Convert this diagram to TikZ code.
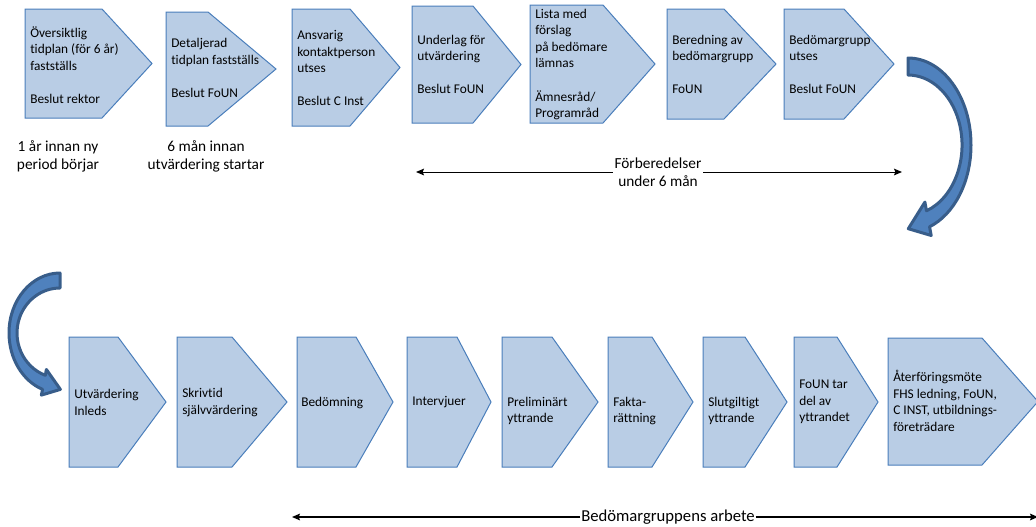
\documentclass[tikz,border=0pt]{standalone}
\usepackage{fontspec}
\setmainfont{Carlito}[Ligatures=NoCommon]
\usetikzlibrary{arrows.meta}
\definecolor{stepfill}{RGB}{185,205,229}
\definecolor{stepline}{RGB}{74,126,187}
\definecolor{bendfill}{RGB}{79,129,189}
\definecolor{bendline}{RGB}{56,93,138}
\tikzstyle{stepbox}=[draw=stepline, fill=stepfill, line width=0.75pt]
\tikzstyle{steptext}=[anchor=west, align=left, inner sep=0pt, font=\fontsize{10}{12.4}\selectfont]
\tikzstyle{note}=[align=center, inner sep=1pt, font=\fontsize{11.5}{13.5}\selectfont]
\tikzstyle{spanline}=[line width=0.75pt, -{Stealth[length=6pt,width=5pt,inset=1pt]}]
\tikzstyle{bendarrow}=[draw=bendline, fill=bendfill, line width=2.25pt, line join=round]

\begin{document}
\begin{tikzpicture}[x=0.75pt, y=-0.75pt]
        \useasboundingbox (0,0) rectangle (1036,526);
        \draw[stepbox] (25,9) -- (102,9) -- (152,63.5) -- (102,118) -- (25,118) -- cycle;
        \draw[stepbox] (166,12) -- (208,12) -- (276,69) -- (208,126) -- (166,126) -- cycle;
        \draw[stepbox] (292,9) -- (350,9) -- (400,67.5) -- (350,126) -- (292,126) -- cycle;
        \draw[stepbox] (412,6) -- (473,6) -- (521,64.5) -- (473,123) -- (412,123) -- cycle;
        \draw[stepbox] (530,5) -- (603,5) -- (655,64) -- (603,123) -- (530,123) -- cycle;
        \draw[stepbox] (667,9) -- (724,9) -- (776,64) -- (724,119) -- (667,119) -- cycle;
        \draw[stepbox] (784,9) -- (844,9) -- (894,64) -- (844,119) -- (784,119) -- cycle;
        \node[steptext] (S1) at (30,65)   {Översiktlig\\tidplan (för 6 år)\\fastställs\\[12.4pt]Beslut rektor};
        \node[steptext] (S2) at (171,68)  {Detaljerad\\tidplan fastställs\\[12.4pt]Beslut FoUN};
        \node[steptext] (S3) at (297,68)  {Ansvarig\\kontaktperson\\utses\\[12.4pt]Beslut C Inst};
        \node[steptext] (S4) at (417,64.5) {Underlag för\\utvärdering\\[12.4pt]Beslut FoUN};
        \node[steptext] (S5) at (535,64.5) {Lista med\\förslag\\på bedömare\\lämnas\\[12.4pt]Ämnesråd/\\Programråd};
        \node[steptext] (S6) at (672,64.5) {Beredning av\\bedömargrupp\\[12.4pt]FoUN};
        \node[steptext] (S7) at (789,64.5) {Bedömargrupp\\utses\\[12.4pt]Beslut FoUN};
        \node[note] (L1) at (58,156)  {1 år innan ny\\period börjar};
        \node[note] (L2) at (206,156) {6 mån innan\\utvärdering startar};
        \node[note] (prep) at (658,172) {Förberedelser\\under 6 mån};
        \coordinate (prepL) at (416,172);
        \coordinate (prepR) at (902,172);
        \draw[spanline] (prep.west) -- (prepL);
        \draw[spanline] (prep.east) -- (prepR);
        \filldraw[bendarrow] (908,58) arc[start angle=-90, end angle=70, x radius=63, y radius=87] -- (931.2,235.5) -- (908.3,228.7) -- (924.9,202.1) -- (926.5,210.8) arc[start angle=70, end angle=-90, x radius=54, y radius=70] -- cycle;
        \filldraw[bendarrow] (60,273) arc[start angle=270, end angle=110, x radius=51, y radius=60] -- (41.4,395.1) -- (60.4,389.4) -- (46.4,369.5) -- (45.3,375.3) arc[start angle=110, end angle=270, x radius=43, y radius=45] -- cycle;
        \draw[stepbox] (69,337) -- (118,337) -- (166,402) -- (118,467) -- (69,467) -- cycle;
        \draw[stepbox] (177,337) -- (232,337) -- (287,402) -- (232,467) -- (177,467) -- cycle;
        \draw[stepbox] (297,337) -- (356,337) -- (393,402) -- (356,467) -- (297,467) -- cycle;
        \draw[stepbox] (407,337) -- (457,337) -- (491,402) -- (457,467) -- (407,467) -- cycle;
        \draw[stepbox] (502,337) -- (552,337) -- (598,402) -- (552,467) -- (502,467) -- cycle;
        \draw[stepbox] (608,337) -- (652,337) -- (693,402) -- (652,467) -- (608,467) -- cycle;
        \draw[stepbox] (703,337) -- (745,337) -- (787,402) -- (745,467) -- (703,467) -- cycle;
        \draw[stepbox] (794,337) -- (837,337) -- (878,402) -- (837,467) -- (794,467) -- cycle;
        \draw[stepbox] (888,338) -- (982,338) -- (1038,401.5) -- (982,465) -- (888,465) -- cycle;
        \node[steptext] (B1) at (74,402.5) {Utvärdering\\Inleds};
        \node[steptext] (B2) at (182,402.5) {Skrivtid\\självvärdering};
        \node[steptext] (B3) at (301,403) {Bedömning};
        \node[steptext] (B4) at (412,402) {Intervjuer};
        \node[steptext] (B5) at (507,411) {Preliminärt\\yttrande};
        \node[steptext] (B6) at (613,411) {Fakta-\\rättning};
        \node[steptext] (B7) at (708,411) {Slutgiltigt\\yttrande};
        \node[steptext] (B8) at (799,402) {FoUN tar\\del av\\yttrandet};
        \node[steptext] (B9) at (893,401) {Återföringsmöte\\FHS ledning, FoUN,\\C INST, utbildnings-\\företrädare};
        \node[note, inner sep=0.5pt, font=\fontsize{12.5}{14}\selectfont] (work) at (668,517) {Bedömargruppens arbete};
        \coordinate (workL) at (292,517);
        \coordinate (workR) at (1038,517);
        \draw[spanline, line width=1pt] (work.west) -- (workL);
        \draw[spanline, line width=1pt] (work.east) -- (workR);
    \end{tikzpicture}
\end{document}
